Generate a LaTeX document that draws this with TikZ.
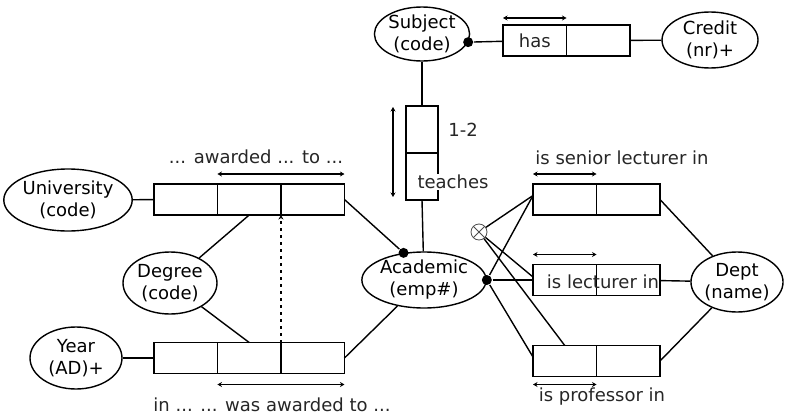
\documentclass[tikz,border=0pt]{standalone}
\usepackage{fontspec}
\setmainfont{DejaVu Sans}
\usetikzlibrary{shapes.geometric,arrows.meta,positioning}

\begin{document}
\begin{tikzpicture}[x=1pt,y=-1pt,line width=1.4pt,
  font=\fontsize{18}{22}\selectfont,
  ent/.style 2 args={draw,ellipse,inner sep=0pt,align=center,
    minimum width=#1,minimum height=#2},
  cell/.style={draw,minimum width=63.5pt,minimum height=31pt,
    inner sep=0pt,outer sep=0pt},
  vcell/.style={draw,minimum width=32pt,minimum height=47pt,
    inner sep=0pt,outer sep=0pt},
  uniq/.style={{Stealth[length=4.5pt,width=5pt]}-{Stealth[length=4.5pt,width=5pt]},line width=1.3pt},
  dot/.style={circle,fill,inner sep=0pt,minimum size=10pt},
  xo/.style={circle,draw=black!70,line width=0.8pt,minimum size=16pt,inner sep=0pt,
    path picture={\draw[black!70,line width=0.8pt]
      (path picture bounding box.north west) -- (path picture bounding box.south east)
      (path picture bounding box.north east) -- (path picture bounding box.south west);}},
  lbl/.style={text=black!85,inner sep=1pt}]

  \useasboundingbox (0,0) rectangle (789,415);

  % 1. Entity types (ellipses)
  \node[ent={90pt}{54pt}] (subj) at (422,34) {Subject\\(code)};
  \node[ent={96pt}{56pt}] (cred) at (710,40) {Credit\\(nr)+};
  \node[ent={108pt}{62pt}] (uni) at (68,200) {University\\(code)};
  \node[ent={94pt}{62pt}] (deg) at (170,283) {Degree\\(code)};
  \node[ent={92pt}{62pt}] (year) at (76,358) {Year\\(AD)+};
  \node[ent={104pt}{56pt}] (acad) at (424,280) {Academic\\(emp\#)};
  \node[ent={92pt}{60pt}] (dept) at (737,282) {Dept\\(name)};

  % 2. Fact types (role boxes)
  \node[cell] (aw1) at (185.7,199.5) {};
  \node[cell,right=0pt of aw1] (aw2) {};
  \node[cell,right=0pt of aw2] (aw3) {};

  \node[cell] (bw1) at (185.7,358) {};
  \node[cell,right=0pt of bw1] (bw2) {};
  \node[cell,right=0pt of bw2] (bw3) {};

  \node[cell,lbl] (has1) at (534.75,40.5) {has};
  \node[cell,right=0pt of has1] (has2) {};

  \node[vcell] (te1) at (422,129.5) {};
  \node[vcell,below=0pt of te1] (te2) {};

  \node[cell] (sr1) at (564.75,199.5) {};
  \node[cell,right=0pt of sr1] (sr2) {};
  \node[cell] (lc1) at (564.75,280) {};
  \node[cell,right=0pt of lc1] (lc2) {};
  \node[cell] (pf1) at (564.75,361) {};
  \node[cell,right=0pt of pf1] (pf2) {};

  % 3. Uniqueness bars
  \draw[uniq] ([yshift=10pt]aw2.north west) -- ([yshift=10pt]aw3.north east);
  \draw[uniq] ([yshift=-11pt]bw2.south west) -- ([yshift=-11pt]bw3.south east);
  \draw[uniq] ([yshift=7pt]has1.north west) -- ([yshift=7pt]has1.north east);
  \draw[uniq] ([xshift=-13pt,yshift=-1pt]te1.north west) -- ([xshift=-13pt,yshift=3pt]te2.south west);
  \draw[uniq] ([yshift=10pt]sr1.north west) -- ([yshift=10pt]sr1.north east);
  \draw[uniq] ([yshift=10pt]lc1.north west) -- ([yshift=10pt]lc1.north east);
  \draw[uniq] ([yshift=-8pt]pf1.south west) -- ([yshift=-8pt]pf1.south east);

  % 4. Mandatory dots and exclusion
  \node[dot] (sdot) at (subj.-10) {};
  \node[dot] (adot1) at (acad.127) {};
  \node[dot] (adot2) at (acad.east) {};
  \node[xo] (xor) at (479,232) {};

  % 5. Role connectors
  \draw (uni) -- (aw1);
  \draw (year) -- (bw1);
  \draw (deg) -- (aw2.south);
  \draw (deg) -- (bw2.north);
  \draw (aw3.east) -- (adot1);
  \draw (bw3.east) -- (acad);
  \draw (sdot) -- (has1);
  \draw (has2) -- (cred);
  \draw (te1.north) -- (subj);
  \draw (te2.south) -- (acad);
  \draw (adot2) -- ([yshift=4pt]sr1.west);
  \draw (adot2) -- (lc1.west);
  \draw (adot2) -- ([yshift=4pt]pf1.west);
  \draw (xor) -- ([yshift=4pt]sr1.west);
  \draw (xor) -- ([yshift=3pt]lc1.west);
  \draw (xor) -- (pf1.north);
  \draw (sr2.east) -- (dept);
  \draw (lc2) -- (dept);
  \draw (pf2.east) -- (dept);

  % subset constraint (dotted)
  \draw[line width=1.5pt,dash pattern=on 3pt off 4pt,-{Stealth[length=4.5pt,width=5pt]}]
    (bw2.north east) -- (aw2.south east);

  % 6. Readings
  \node[lbl] (rd-aw) at (256,157) {... awarded ... to ...};
  \node[lbl] (rd-bw) at (272,405) {in ... ... was awarded to ...};
  \node[lbl] (rd-nr) at (463,130) {1-2};
  \node[lbl,fill=white] (rd-te) at (453,182) {teaches};
  \node[lbl] (rd-sr) at (622,158) {is senior lecturer in};
  \node[lbl] (rd-lc) at (603,282) {is lecturer in};
  \node[lbl] (rd-pf) at (602,397) {is professor in};

\end{tikzpicture}
\end{document}
